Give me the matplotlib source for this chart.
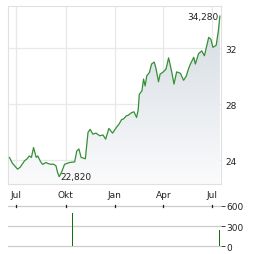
import matplotlib
matplotlib.use('Agg')
import matplotlib.pyplot as plt
import matplotlib.dates as mdates
from matplotlib.colors import LinearSegmentedColormap
import numpy as np
import pandas as pd

# Kursverlauf (Tausend)
datum = ['2023-06-18','2023-06-23','2023-07-03','2023-07-08','2023-07-16','2023-07-21',
         '2023-07-25','2023-07-29','2023-08-02','2023-08-07','2023-08-10','2023-08-15',
         '2023-08-19','2023-08-25','2023-08-30','2023-09-04','2023-09-08','2023-09-13',
         '2023-09-16','2023-09-19','2023-09-23','2023-09-29','2023-10-08','2023-10-18',
         '2023-10-22','2023-10-26','2023-10-30','2023-11-07','2023-11-12','2023-11-16',
         '2023-11-21','2023-11-27','2023-12-04','2023-12-10','2023-12-15','2023-12-21',
         '2023-12-28','2024-01-04','2024-01-09','2024-01-14','2024-01-17','2024-01-23',
         '2024-01-26','2024-02-02','2024-02-06','2024-02-11','2024-02-14','2024-02-16',
         '2024-02-21','2024-02-24','2024-02-27','2024-03-01','2024-03-06','2024-03-10',
         '2024-03-15','2024-03-18','2024-03-23','2024-03-26','2024-04-01','2024-04-06',
         '2024-04-11','2024-04-17','2024-04-21','2024-04-26','2024-05-03','2024-05-09',
         '2024-05-14','2024-05-18','2024-05-21','2024-05-28','2024-05-31','2024-06-06',
         '2024-06-12','2024-06-17','2024-06-25','2024-06-29','2024-07-03','2024-07-09',
         '2024-07-13','2024-07-16']
kurs = [24.19, 23.8, 23.36, 23.5, 23.95, 24.1,
        24.3, 24.2, 24.9, 24.2, 24.3, 23.9,
        23.7, 23.83, 23.75, 23.7, 23.72, 23.6,
        23.12, 22.82, 23.1, 23.7, 23.83, 23.88,
        24.66, 24.8, 24.2, 24.1, 25.98, 26.2,
        25.86, 25.93, 25.74, 25.8, 25.5, 26.26,
        25.93, 26.33, 26.57, 26.9, 26.93, 27.17,
        27.2, 27.4, 27.45, 27.05, 27.6, 28.7,
        28.95, 29.79, 29.3, 30.02, 30.26, 30.86,
        31.0, 30.6, 29.6, 30.14, 30.3, 30.5,
        31.3, 30.26, 29.43, 30.3, 30.2, 29.7,
        30.0, 30.5, 30.8, 31.34, 30.86, 31.6,
        31.8, 31.45, 32.76, 32.64, 32.05, 32.2,
        33.2, 34.28]

# Umsatz
vol_datum = ['2023-10-14', '2024-07-15']
vol_wert = [495, 235]

monate = ['2023-07-01', '2023-10-01', '2024-01-01', '2024-04-01', '2024-07-01']
monat_labels = ['Jul', 'Okt', 'Jan', 'Apr', 'Jul']

x = pd.to_datetime(datum)
xm = pd.to_datetime(monate)
xv = pd.to_datetime(vol_datum)

fig = plt.figure(figsize=(2.64, 2.55), dpi=100)
ax = fig.add_axes([0.030, 0.2745, 0.807, 0.698])
av = fig.add_axes([0.030, 0.020, 0.807, 0.179])

xmin = pd.Timestamp('2023-06-15')
xmax = pd.Timestamp('2024-07-18')
ymin, ymax = 22.3, 35.0
txt = '#222222'

# Verlauf-Fuellung
poly, = ax.fill(np.concatenate([mdates.date2num(x), [mdates.date2num(x[-1]), mdates.date2num(x[0])]]),
                np.concatenate([kurs, [ymin, ymin]]), color='none')
grad = np.linspace(1, 0, 256).reshape(-1, 1)
cm = LinearSegmentedColormap.from_list('g', ['#fbfbfc', '#d3dbe2'])
im = ax.imshow(grad, cmap=cm, aspect='auto', origin='upper',
               extent=[mdates.date2num(xmin), mdates.date2num(xmax), ymin, 34.5], zorder=1)
im.set_clip_path(poly)

ax.plot(x, kurs, color='#359035', lw=0.9, zorder=3)

ax.set_xlim(xmin, xmax)
ax.set_ylim(ymin, ymax)
ax.set_xticks(xm)
ax.set_xticklabels(monat_labels)
ax.set_yticks([24, 28, 32])
ax.yaxis.tick_right()
ax.tick_params(length=0, labelsize=6.5, colors=txt, pad=3)
ax.tick_params(axis='x', pad=4)
ax.grid(True, color='#e8e8e8', lw=0.9)
ax.set_axisbelow(True)
for s in ax.spines.values():
    s.set_color('#e0e0e0')
    s.set_linewidth(0.8)

ax.text(x[-1] - pd.Timedelta(days=3), 34.28, '34,280', ha='right', va='center',
        fontsize=6.5, color=txt)
ax.text(x[19] + pd.Timedelta(days=2), 22.82, '22,820', ha='left', va='center',
        fontsize=6.5, color=txt)

# Umsatz-Panel
av.bar(xv, vol_wert, width=0.8, color='#117011')
av.set_xlim(xmin, xmax)
av.set_ylim(-40, 640)
av.set_yticks([0, 300, 600])
av.yaxis.tick_right()
av.tick_params(axis='y', length=3, width=0.6, labelsize=6.5, colors=txt, pad=1)
av.set_xticks(xm)
av.tick_params(axis='x', length=0, labelbottom=False)
for d in xm:
    av.plot([d, d], [585, 615], color='#222222', lw=0.9)
av.grid(True, axis='y', color='#cccccc', lw=0.9)
av.set_axisbelow(True)
for s in av.spines.values():
    s.set_visible(False)

fig.savefig('out.png', dpi=100)
